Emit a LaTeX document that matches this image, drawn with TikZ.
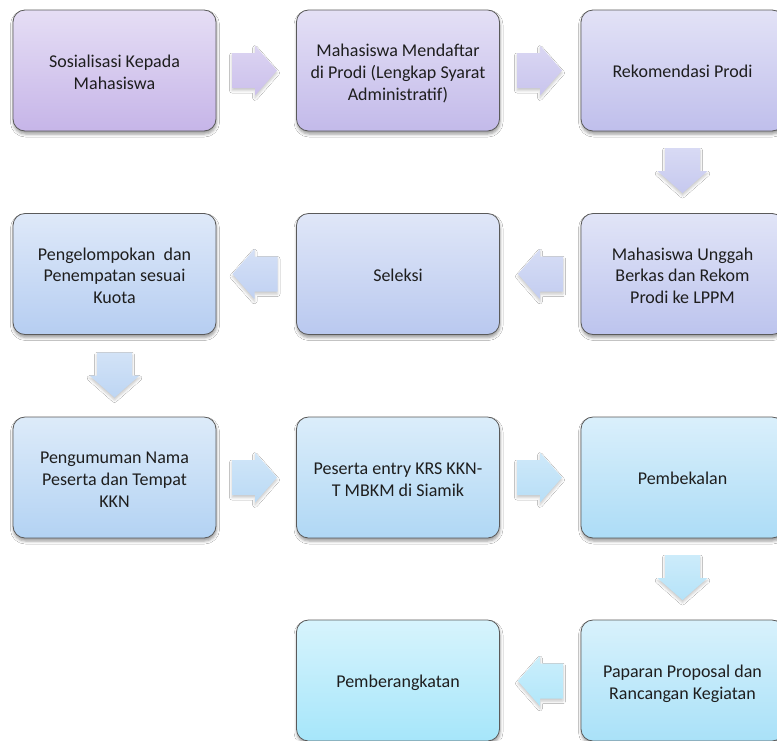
\documentclass[tikz,border=0pt]{standalone}
\usepackage{fontspec}
\setmainfont{Carlito}
\usetikzlibrary{shadows.blur}
\definecolor{PB}{HTML}{C6B5E8}
\definecolor{CB}{HTML}{A6E6FA}
\definecolor{boxline}{HTML}{5A5A5A}
\definecolor{txt}{HTML}{1E1E1E}
\newcommand\mlines[1]{\raisebox{0pt}[\dimexpr\height+7pt\relax][\depth]{\begin{tabular}{@{}c@{}}#1\end{tabular}}}
\tikzset{
  stepbox/.style={draw=boxline, line width=0.8pt, rounded corners=12pt,
    minimum width=203pt, minimum height=121pt, inner sep=0pt, align=center,
    font=\fontsize{18}{21.7}\selectfont, text=txt,
    execute at begin node={\rule{0pt}{19.5pt}},
    execute at end node={\rule[-5pt]{0pt}{0pt}},
    top color=PB!#1!CB!45!white, bottom color=PB!#1!CB,
    blur shadow={shadow xshift=0.5pt, shadow yshift=-3pt, shadow blur radius=3pt, shadow opacity=40}},
  arrowfill/.style={top color=PB!#1!CB!60!white, bottom color=PB!#1!CB!88!white,
    blur shadow={shadow xshift=0pt, shadow yshift=-2.5pt, shadow blur radius=2.5pt, shadow opacity=22}},
  flowright/.pic={\path[arrowfill=#1] (-22.5,-17.5) -- (0.5,-17.5) -- (0.5,-25) -- (22.5,0)
      -- (0.5,25) -- (0.5,17.5) -- (-22.5,17.5) -- cycle;},
  flowleft/.pic={\path[arrowfill=#1] (22.5,-17.5) -- (-0.5,-17.5) -- (-0.5,-25) -- (-22.5,0)
      -- (-0.5,25) -- (-0.5,17.5) -- (22.5,17.5) -- cycle;},
  flowdown/.pic={\path[arrowfill=#1] (-17.5,22.5) -- (-17.5,-0.5) -- (-25,-0.5) -- (0,-22.5)
      -- (25,-0.5) -- (17.5,-0.5) -- (17.5,22.5) -- cycle;},
}
\begin{document}
\begin{tikzpicture}[x=1pt,y=1pt]
\useasboundingbox (0,0) rectangle (777,-740);
\fill[white] (0,0) rectangle (777,-740);
% boxes
\node[stepbox=100] (b1) at (114.5,-70.5) {\mlines{Sosialisasi Kepada\\Mahasiswa}};
\node[stepbox=90] (b2) at (398,-70.5) {\mlines{Mahasiswa Mendaftar\\di Prodi (Lengkap Syarat\\Administratif)}};
\node[stepbox=80] (b3) at (682.5,-70.5) {Rekomendasi Prodi};
\node[stepbox=70] (b4) at (682.5,-274) {\mlines{Mahasiswa Unggah\\Berkas dan Rekom\\Prodi ke LPPM}};
\node[stepbox=60] (b5) at (398,-274) {Seleksi};
\node[stepbox=50] (b6) at (114.5,-274) {\mlines{Pengelompokan\ \ dan\\Penempatan sesuai\\Kuota}};
\node[stepbox=40] (b7) at (114.5,-477.5) {\mlines{Pengumuman Nama\\Peserta dan Tempat\\KKN}};
\node[stepbox=30] (b8) at (398,-477.5) {\mlines{Peserta entry KRS KKN-\\T MBKM di Siamik}};
\node[stepbox=20] (b9) at (682.5,-477.5) {Pembekalan};
\node[stepbox=10] (b10) at (682.5,-680.5) {\mlines{Paparan Proposal dan\\Rancangan Kegiatan}};
\node[stepbox=0] (b11) at (398,-680.5) {Pemberangkatan};
% arrows
\pic (a1) at (254.5,-70.5) {flowright=95};
\pic (a2) at (539.5,-70.5) {flowright=85};
\pic (a3) at (682.5,-170.5) {flowdown=75};
\pic (a4) at (540.5,-274) {flowleft=65};
\pic (a5) at (255,-274) {flowleft=55};
\pic (a6) at (114.5,-375) {flowdown=45};
\pic (a7) at (254.5,-477.5) {flowright=35};
\pic (a8) at (539.5,-477.5) {flowright=25};
\pic (a9) at (682.5,-577.5) {flowdown=15};
\pic (a10) at (540.5,-681) {flowleft=5};
\end{tikzpicture}
\end{document}
